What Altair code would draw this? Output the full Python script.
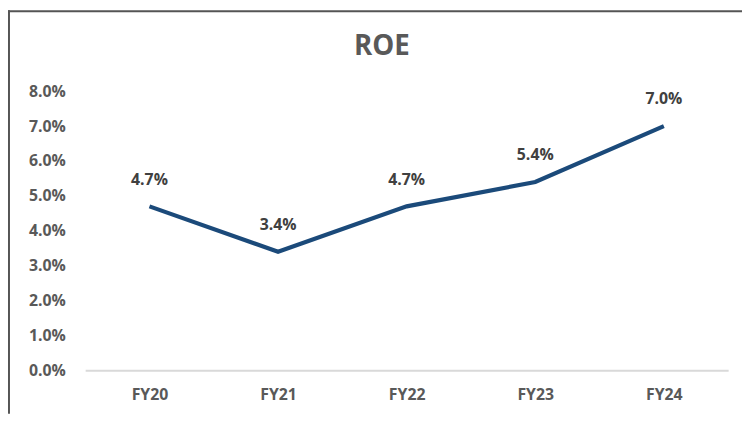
import altair as alt
import pandas as pd

years = ["FY20", "FY21", "FY22", "FY23", "FY24"]
roe = [0.047, 0.034, 0.047, 0.054, 0.070]
y_ticks = [0.0, 0.01, 0.02, 0.03, 0.04, 0.05, 0.06, 0.07, 0.08]
chart_title = ["ROE"]

df = pd.DataFrame({"year": years, "roe": roe})
frame_df = pd.DataFrame({"k": [0]})
title_df = pd.DataFrame({"t": chart_title})

FONT = "Open Sans"
GRAY = "#595959"

x = alt.X("year:N", sort=years, title=None,
          scale=alt.Scale(type="point", padding=0.5),
          axis=alt.Axis(labelAngle=0, labelFont=FONT, labelFontSize=16,
                        labelFontWeight="bold", labelColor=GRAY,
                        labelPadding=17, ticks=False, domain=True,
                        domainColor="#D9D9D9", domainWidth=2, grid=False))
y = alt.Y("roe:Q", title=None,
          scale=alt.Scale(domain=[0, 0.08], nice=False, zero=True),
          axis=alt.Axis(values=y_ticks, format=".1%", labelFont=FONT,
                        labelFontSize=16, labelFontWeight="bold",
                        labelColor=GRAY, labelPadding=20, ticks=False,
                        domain=False, grid=False))

line = alt.Chart(df).mark_line(color="#1B4A7A", strokeWidth=4.2).encode(x=x, y=y)
labels = alt.Chart(df).mark_text(dy=-27, font=FONT, fontSize=16,
                                 fontWeight="bold", color="#404040").encode(
    x=x, y=y, text=alt.Text("roe:Q", format=".1%"))

title = alt.Chart(title_df).mark_text(font=FONT, fontSize=28, fontWeight="bold",
                                      color=GRAY, baseline="middle", align="center").encode(
    x=alt.value(300), y=alt.value(-45), text="t:N")

left_border = alt.Chart(frame_df).mark_rule(color="#555555", strokeWidth=2).encode(
    x=alt.value(-77), y=alt.value(-82), y2=alt.value(326))
top_border = alt.Chart(frame_df).mark_rule(color="#555555", strokeWidth=2).encode(
    x=alt.value(-78), x2=alt.value(670), y=alt.value(-81))

chart = alt.layer(left_border, top_border, title, line, labels).properties(
    width=650, height=282,
    autosize=alt.AutoSizeParams(type="none"),
    padding={"left": 78, "top": 82, "right": 14, "bottom": 44},
).configure_view(stroke=None)

chart.save("out.html", embed_options={"renderer": "svg", "actions": False})
